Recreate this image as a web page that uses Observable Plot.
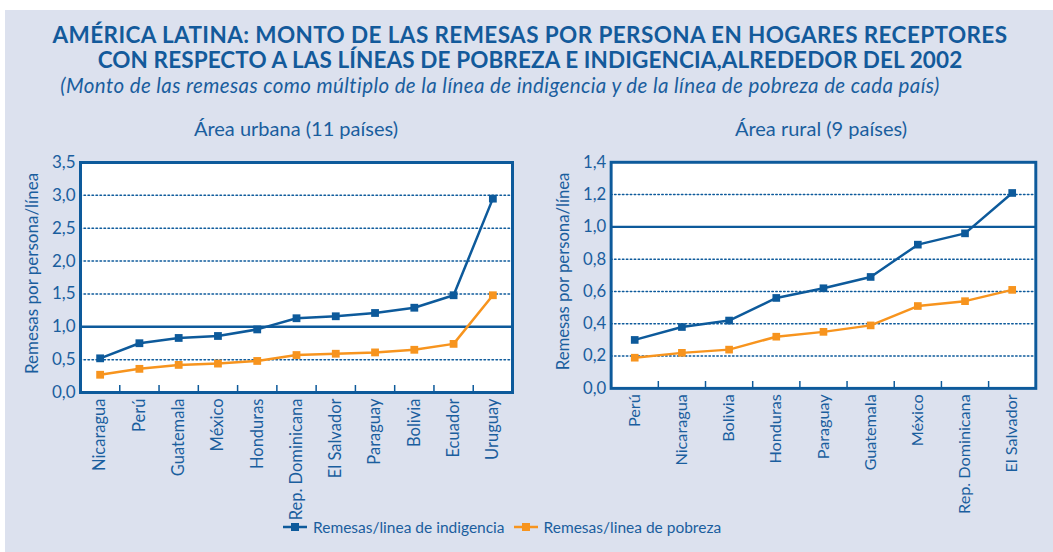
<!DOCTYPE html>
<html>
<head>
<meta charset="utf-8">
<script src="https://cdn.jsdelivr.net/npm/d3@7"></script>
<script src="https://cdn.jsdelivr.net/npm/@observablehq/plot@0.6"></script>
<style>
  html, body { margin: 0; padding: 0; background: #ffffff; }
  #root { position: relative; width: 1053px; height: 552px; overflow: hidden; font-family: Lato, "Open Sans", sans-serif; color: #1a5e9e; }
  #panel { position: absolute; left: 5px; top: 10px; right: 0; bottom: 0; background: #dce1ee; }
  .abs { position: absolute; white-space: nowrap; }
  .title { left: 0; width: 1060px; text-align: center; font-weight: 700; font-size: 22.5px; letter-spacing: 0.4px; color: #135a9b; }
  .sub { left: 0; width: 1000px; text-align: center; font-style: italic; font-size: 20.5px; letter-spacing: 0.4px; }
  .panelTitle { font-size: 20px; text-align: center; width: 432px; }
  .legend { top: 518px; left: 283px; font-size: 15.5px; display: flex; align-items: center; }
  .legend svg { margin-right: 6px; }
</style>
</head>
<body>
<div id="root">
  <div id="panel"></div>
  <div class="abs title" style="top:21px">AMÉRICA LATINA: MONTO DE LAS REMESAS POR PERSONA EN HOGARES RECEPTORES</div>
  <div class="abs title" style="top:46px; letter-spacing:0.1px">CON RESPECTO A LAS LÍNEAS DE POBREZA E INDIGENCIA,ALREDEDOR DEL 2002</div>
  <div class="abs sub" style="top:73px">(<i>Monto de las remesas como múltiplo de la línea de indigencia y de la línea de pobreza de cada país</i>)</div>
  <div class="abs panelTitle" style="left:80px; top:116px">Área urbana (11 países)</div>
  <div class="abs panelTitle" style="left:605px; top:116px">Área rural (9 países)</div>
  <div id="left" class="abs" style="left:0; top:150px"></div>
  <div id="right" class="abs" style="left:532px; top:150px"></div>
  <div class="abs legend">
    <svg width="24" height="10"><line x1="0" y1="5" x2="24" y2="5" stroke="#0d5a9b" stroke-width="2.5"/><rect x="8" y="1" width="8" height="8" fill="#0d5a9b"/></svg>
    <span style="margin-right:9px">Remesas/linea de indigencia</span>
    <svg width="24" height="10"><line x1="0" y1="5" x2="24" y2="5" stroke="#f7941e" stroke-width="2.5"/><rect x="8" y="1" width="8" height="8" fill="#f7941e"/></svg>
    <span>Remesas/linea de pobreza</span>
  </div>
</div>
<script>
// ---- Data ----
const urbanCountries = ["Nicaragua", "Perú", "Guatemala", "México", "Honduras", "Rep. Dominicana", "El Salvador", "Paraguay", "Bolivia", "Ecuador", "Uruguay"];
const urbanIndigencia = [0.52, 0.75, 0.83, 0.86, 0.96, 1.13, 1.16, 1.21, 1.29, 1.48, 2.95];
const urbanPobreza = [0.27, 0.36, 0.42, 0.44, 0.48, 0.57, 0.59, 0.61, 0.65, 0.74, 1.48];
const urbanYTicks = [0, 0.5, 1, 1.5, 2, 2.5, 3, 3.5];
const urbanGrid = [0.5, 1.5, 2, 2.5, 3];

const ruralCountries = ["Perú", "Nicaragua", "Bolivia", "Honduras", "Paraguay", "Guatemala", "México", "Rep. Dominicana", "El Salvador"];
const ruralIndigencia = [0.30, 0.38, 0.42, 0.56, 0.62, 0.69, 0.89, 0.96, 1.21];
const ruralPobreza = [0.19, 0.22, 0.24, 0.32, 0.35, 0.39, 0.51, 0.54, 0.61];
const ruralYTicks = [0, 0.2, 0.4, 0.6, 0.8, 1.0, 1.2, 1.4];
const ruralGrid = [0.2, 0.4, 0.6, 0.8, 1.2];

const referenceLine = [1];

const BLUE = "#0d5a9b";
const ORANGE = "#f7941e";
const TEXT = "#1a5e9e";

const fmt = d => d3.format(".1f")(d).replace(".", ",");

function chart(countries, ind, pob, yTicks, grid, marginLeft) {
  const n = countries.length;
  const idx = d3.range(n);
  const bounds = d3.range(1, n).map(i => i - 0.5);
  const rowsInd = idx.map(i => ({i, v: ind[i]}));
  const rowsPob = idx.map(i => ({i, v: pob[i]}));
  const yMax = yTicks[yTicks.length - 1];
  const frameH = 230;
  return Plot.plot({
    width: 432 + marginLeft + 18,
    height: 332,
    marginLeft,
    marginRight: 18,
    marginTop: 12,
    marginBottom: 90,
    style: {background: "transparent", fontFamily: "Lato, 'Open Sans', sans-serif", color: TEXT, overflow: "visible"},
    x: {domain: [-0.5, n - 0.5]},
    y: {domain: [0, yMax]},
    marks: [
      Plot.frame({fill: "white", stroke: null}),
      Plot.ruleY(grid, {stroke: BLUE, strokeWidth: 1.5, strokeDasharray: "1.5,2.5", strokeLinecap: "round"}),
      Plot.ruleY(referenceLine, {stroke: BLUE, strokeWidth: 2.5}),
      Plot.ruleX(bounds, {x: d => d, y1: 0, y2: yMax * 7 / frameH, stroke: BLUE, strokeWidth: 1.5}),
      Plot.line(rowsPob, {x: "i", y: "v", stroke: ORANGE, strokeWidth: 2.5}),
      Plot.dot(rowsPob, {x: "i", y: "v", symbol: "square", r: 4.4, fill: ORANGE, stroke: null}),
      Plot.line(rowsInd, {x: "i", y: "v", stroke: BLUE, strokeWidth: 2.5}),
      Plot.dot(rowsInd, {x: "i", y: "v", symbol: "square", r: 4.4, fill: BLUE, stroke: null}),
      Plot.frame({stroke: BLUE, strokeWidth: 3}),
      Plot.axisY(yTicks, {tickSize: 0, tickPadding: 5, tickFormat: fmt, fontSize: 17, label: null, fill: TEXT}),
      Plot.axisX(idx, {tickSize: 0, tickPadding: 6, tickFormat: i => countries[i], tickRotate: -90, fontSize: 16.5, letterSpacing: 0.5, label: null, fill: TEXT}),
      Plot.text(["Remesas por persona/línea"], {frameAnchor: "left", textAnchor: "middle", dx: -48, dy: -4, rotate: -90, fontSize: 17, letterSpacing: 0.6, fill: TEXT})
    ]
  });
}

document.getElementById("left").appendChild(chart(urbanCountries, urbanIndigencia, urbanPobreza, urbanYTicks, urbanGrid, 80));
document.getElementById("right").appendChild(chart(ruralCountries, ruralIndigencia, ruralPobreza, ruralYTicks, ruralGrid, 80));
</script>
</body>
</html>
